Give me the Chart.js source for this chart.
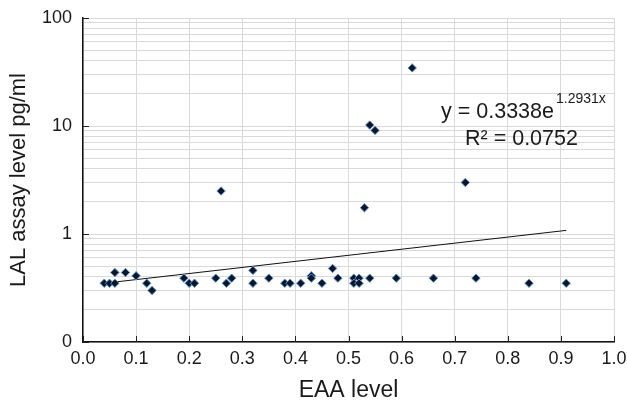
<!DOCTYPE html>
<html>
<head>
<meta charset="utf-8">
<script src="https://cdn.jsdelivr.net/npm/chart.js@4.4.0/dist/chart.umd.min.js"></script>
<style>
  html, body { margin: 0; padding: 0; background: #fff; }
  #wrap { width: 628px; height: 406px; }
</style>
</head>
<body>
<div id="wrap"><canvas id="chart" width="628" height="406"></canvas></div>
<script>
// EAA level vs LAL assay level (pg/ml)
const eaaLevel = [0.04, 0.05, 0.06, 0.06, 0.08, 0.10, 0.12, 0.13, 0.19, 0.20, 0.21,
  0.25, 0.26, 0.27, 0.28, 0.32, 0.32, 0.35, 0.38, 0.39, 0.41, 0.43, 0.43, 0.45,
  0.47, 0.48, 0.51, 0.51, 0.52, 0.52, 0.53, 0.54, 0.54, 0.55, 0.59, 0.62, 0.66,
  0.72, 0.74, 0.84, 0.91];
const lalLevel = [0.35, 0.35, 0.44, 0.35, 0.44, 0.41, 0.35, 0.30, 0.39, 0.35, 0.35,
  0.39, 2.5, 0.35, 0.39, 0.46, 0.35, 0.39, 0.35, 0.35, 0.35, 0.41, 0.39, 0.35,
  0.48, 0.39, 0.39, 0.35, 0.39, 0.35, 1.75, 0.39, 10.2, 9.1, 0.39, 34.5, 0.39,
  3.0, 0.39, 0.35, 0.35];

// exponential trendline endpoints (straight on the log axis)
const trendX = [0.04, 0.91];
const trendY = [0.35, 1.08];

const xTicks = [0, 0.1, 0.2, 0.3, 0.4, 0.5, 0.6, 0.7, 0.8, 0.9, 1.0];
const yDecades = [0.1, 1, 10, 100];
const yDecadeLabels = ['0', '1', '10', '100'];
const equationText = 'y = 0.3338e';
const equationExp = '1.2931x';
const r2Text = 'R\u00B2 = 0.0752';

const FONT = '"Liberation Sans", Arial, Helvetica, sans-serif';
const TEXT = '#1a1a1a';

const extras = {
  id: 'extras',
  afterDraw(chart) {
    const { ctx, chartArea: a, scales: { x, y } } = chart;
    ctx.save();
    // inward tick marks
    ctx.strokeStyle = '#222';
    ctx.lineWidth = 1;
    ctx.beginPath();
    xTicks.forEach(v => {
      const px = Math.round(x.getPixelForValue(v)) + 0.5;
      ctx.moveTo(px, a.bottom);
      ctx.lineTo(px, a.bottom - 6);
    });
    yDecades.forEach(v => {
      const py = Math.round(y.getPixelForValue(v)) + 0.5;
      ctx.moveTo(a.left, py);
      ctx.lineTo(a.left + 6, py);
    });
    ctx.stroke();

    // trendline equation
    ctx.fillStyle = TEXT;
    ctx.textBaseline = 'alphabetic';
    ctx.textAlign = 'left';
    ctx.font = '21.5px ' + FONT;
    ctx.fillText(equationText, 441, 118);
    const w = ctx.measureText(equationText).width;
    ctx.font = '14px ' + FONT;
    ctx.fillText(equationExp, 441 + w + 2, 103);
    ctx.font = '21.5px ' + FONT;
    ctx.fillText(r2Text, 465, 145);
    ctx.restore();
  }
};

new Chart(document.getElementById('chart'), {
  type: 'scatter',
  data: {
    datasets: [{
      label: 'LAL',
      data: eaaLevel.map((v, i) => ({ x: v, y: lalLevel[i] })),
      pointStyle: 'rectRot',
      pointRadius: 4.2,
      backgroundColor: '#0b1626',
      borderColor: '#5a8fd2',
      borderWidth: 1
    }, {
      label: 'Trend',
      type: 'line',
      data: trendX.map((v, i) => ({ x: v, y: trendY[i] })),
      borderColor: '#111',
      borderWidth: 1,
      pointRadius: 0,
      fill: false
    }]
  },
  options: {
    responsive: false,
    animation: false,
    layout: { padding: { left: 0, right: 14, top: 18, bottom: 0 } },
    plugins: { legend: { display: false }, tooltip: { enabled: false } },
    scales: {
      x: {
        type: 'linear',
        min: 0,
        max: 1,
        afterBuildTicks: s => { s.ticks = xTicks.map(v => ({ value: v })); },
        afterFit: s => { s.height = 64; s.paddingLeft = 0; s.paddingRight = 0; },
        ticks: {
          callback: v => v.toFixed(1),
          color: TEXT,
          padding: 6,
          font: { family: FONT, size: 18 },
          autoSkip: false,
          maxRotation: 0
        },
        grid: { color: '#d9d9d9', lineWidth: 1, drawTicks: false },
        border: { color: '#111', width: 1.5 },
        title: {
          display: true,
          text: 'EAA level',
          color: TEXT,
          font: { family: FONT, size: 23 },
          padding: { top: 0, bottom: 2 }
        }
      },
      y: {
        type: 'logarithmic',
        min: 0.1,
        max: 100,
        afterBuildTicks: s => {
          const t = [];
          yDecades.slice(0, 3).forEach(d => {
            for (let m = 1; m < 10; m++) t.push({ value: +(m * d).toPrecision(3) });
          });
          t.push({ value: 100 });
          s.ticks = t;
        },
        afterFit: s => { s.width = 83; s.paddingTop = 0; s.paddingBottom = 0; },
        ticks: {
          callback: v => {
            const i = yDecades.findIndex(d => Math.abs(d - v) < 1e-9);
            return i >= 0 ? yDecadeLabels[i] : '';
          },
          color: TEXT,
          padding: 11,
          font: { family: FONT, size: 18 },
          autoSkip: false
        },
        grid: { color: '#d9d9d9', lineWidth: 1, drawTicks: false },
        border: { color: '#111', width: 1.5 },
        title: {
          display: true,
          text: 'LAL assay level pg/ml',
          color: TEXT,
          font: { family: FONT, size: 22 },
          padding: { top: 6, bottom: 0 }
        }
      }
    }
  },
  plugins: [extras]
});
</script>
</body>
</html>
